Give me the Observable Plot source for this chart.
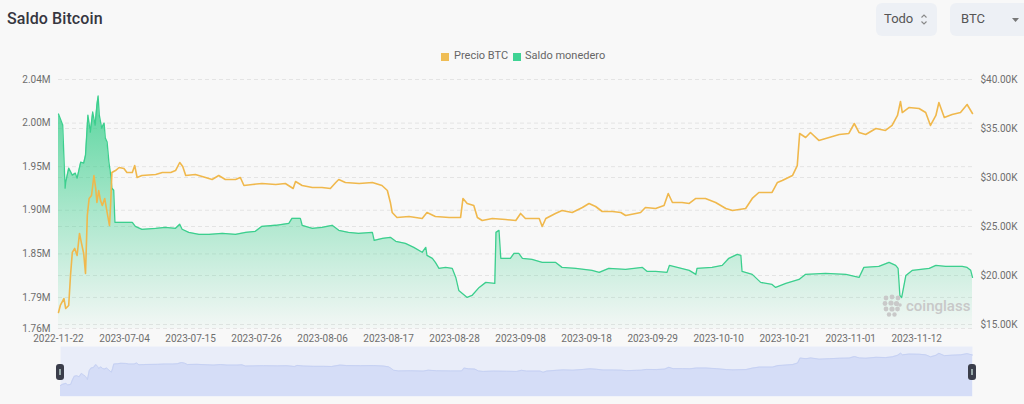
<!DOCTYPE html>
<html>
<head>
<meta charset="utf-8">
<script src="https://cdn.jsdelivr.net/npm/d3@7"></script>
<script src="https://cdn.jsdelivr.net/npm/@observablehq/plot@0.6"></script>
<style>
  html, body { margin: 0; padding: 0; }
  body { width: 1024px; height: 404px; overflow: hidden; position: relative; background: #f8f8f8; font-family: Roboto, "Noto Sans", sans-serif; }
  .abs { position: absolute; }
  #title { left: 7px; top: 9px; font-size: 16px; font-weight: 500; color: #363640; letter-spacing: 0.1px; }
  .ctrl { background: #edf0f5; border-radius: 6px; height: 33px; top: 3px; font-size: 13px; color: #555; box-sizing: border-box; }
  #todo { left: 876px; width: 61px; }
  #btc { left: 950px; width: 90px; }
  .ctrl span { position: absolute; top: 8px; }
  #legend { left: 0; top: 48px; width: 1024px; font-size: 11px; color: #666; }
  .sw { position: absolute; width: 8px; height: 8px; top: 5px; }
  .lt { position: absolute; top: 1px; }
  #chart { left: 0; top: 66px; }
  #slider { left: 0; top: 346px; }
  .handle { position: absolute; top: 364px; width: 8px; height: 16px; background: #3b3e4b; border-radius: 3px; }
  .handle::after { content: ""; position: absolute; left: 3px; top: 5px; width: 2px; height: 6px; border-left: 1px solid #9aa; border-right: 1px solid #9aa; box-sizing: border-box; }
  #wm { left: 882px; top: 294px; color: #c8c8c8; font-size: 15px; font-weight: 500; }
</style>
</head>
<body>
<div id="title" class="abs">Saldo Bitcoin</div>
<div id="todo" class="abs ctrl"><span style="left:8px">Todo</span>
  <svg style="position:absolute;left:44px;top:10px" width="8" height="13" viewBox="0 0 8 13"><path d="M1.5 4.5 L4 2 L6.5 4.5 M1.5 8.5 L4 11 L6.5 8.5" fill="none" stroke="#888" stroke-width="1.1"/></svg>
</div>
<div id="btc" class="abs ctrl"><span style="left:11px">BTC</span>
  <svg style="position:absolute;left:62px;top:15px" width="7" height="4" viewBox="0 0 7 4"><path d="M0 0 L7 0 L3.5 4 Z" fill="#777"/></svg>
</div>
<div id="legend" class="abs">
  <div class="sw" style="left:441px;background:#efbd55"></div><div class="lt" style="left:454px">Precio BTC</div>
  <div class="sw" style="left:513px;background:#3fd394"></div><div class="lt" style="left:525px">Saldo monedero</div>
</div>
<div id="chart" class="abs"></div>
<div id="slider" class="abs"></div>
<div class="handle" style="left:56px"></div>
<div class="handle" style="left:968px"></div>
<div id="wm" class="abs">
  <svg style="position:absolute;left:0;top:0" width="20" height="25" viewBox="0 0 20 25">
    <g fill="#c9c9c9">
      <circle cx="4" cy="4" r="2.4"/><circle cx="10" cy="3" r="2.4"/><circle cx="16" cy="4" r="2.4"/>
      <circle cx="3" cy="9.5" r="2.4"/><circle cx="9" cy="9" r="2.6"/><circle cx="14.5" cy="9.5" r="2.6"/><circle cx="18" cy="11" r="1.8"/>
      <circle cx="4" cy="15" r="2.4"/><circle cx="10" cy="15" r="2.6"/><circle cx="15.5" cy="15" r="2.4"/>
      <circle cx="7" cy="20.5" r="2.2"/><circle cx="12.5" cy="20.5" r="2.2"/>
    </g>
  </svg>
  <span style="position:absolute;left:24px;top:3px;">coinglass</span>
</div>
<script>
// ---- X axis categories (index positions of labelled dates) ----
const xTickIdx = [0, 11, 22, 33, 44, 55, 66, 77, 88, 99, 110, 121, 132, 143];
const xTickLabels = ["2022-11-22","2023-07-04","2023-07-15","2023-07-26","2023-08-06","2023-08-17","2023-08-28","2023-09-08","2023-09-18","2023-09-29","2023-10-10","2023-10-21","2023-11-01","2023-11-12"];

// ---- Left axis (Saldo monedero, BTC) ----
const leftExtent = [1759400, 2045000];
const leftTickValues = [1759400, 1795000, 1845000, 1895000, 1945000, 1995000, 2045000];
const leftTickLabels = ["1.76M","1.79M","1.85M","1.90M","1.95M","2.00M","2.04M"];

// ---- Right axis (Precio BTC, USD) ----
const priceExtent = [14590, 40000];
const priceTickValues = [15000, 20000, 25000, 30000, 35000, 40000];
const priceTickLabels = ["$15.00K","$20.00K","$25.00K","$30.00K","$35.00K","$40.00K"];

// ---- Series: Saldo monedero ----
const saldoIdx = [0,0.7,1.1,1.2,1.7,2.3,2.8,3.1,3.7,4.2,4.5,4.9,5.3,5.7,6.1,6.4,6.6,6.8,7.2,7.6,7.8,8.1,8.4,8.7,8.9,9.2,9.4,9.8,10.6,12.3,12.8,13.9,16.2,17.8,19.5,20.2,20.6,21.7,23.4,25.1,27.3,29.5,31.2,32.8,33.9,36.2,38.4,38.9,40.3,40.6,42.3,43.9,45.6,46.7,48.3,50,52.3,52.6,54,55.3,56.2,57.8,59.2,60.6,61.2,61.4,62.3,62.8,63.4,64.5,65.6,66.2,66.7,67.3,68.1,68.9,70.1,71.2,72.7,72.9,73.4,73.7,75.3,75.9,76.7,77.3,78.9,80.6,82.8,83.9,86.2,88.9,90.1,91.7,94.5,97.3,98.1,99.5,101.4,101.8,105.1,106.2,106.4,108.9,110.6,111.7,113.1,113.7,113.9,115.6,117,118.9,119.5,121.2,123.4,124.5,127.8,131.2,133.4,134.2,136.7,138.4,139.5,139.9,140.2,140.5,141.2,142.3,145.1,146.2,147.8,150.6,151.4,152,152.3];
const saldoVal = [2005400,1992700,1920300,1927200,1943300,1935300,1937600,1931800,1950200,1949100,1958300,2004200,1984700,2007700,1992700,2015700,2026100,2004200,1989300,1995000,1977800,1973200,1950200,1935300,1920300,1918000,1881200,1881200,1881200,1881200,1876600,1873200,1874300,1875500,1874300,1878900,1873200,1869700,1867400,1867400,1868600,1867400,1869700,1870900,1876600,1877800,1880100,1885800,1885800,1877800,1874300,1875500,1877800,1872000,1869700,1868600,1869700,1860500,1862800,1864000,1859400,1857100,1852500,1846800,1852500,1843300,1839900,1835300,1828400,1829500,1828400,1818000,1803100,1799600,1795000,1797300,1806500,1812300,1811100,1869700,1872000,1839900,1839900,1845600,1845600,1839900,1838700,1835300,1835300,1829500,1828400,1826100,1823800,1828400,1827200,1829500,1824900,1824900,1823800,1831800,1826100,1821500,1828400,1829500,1831800,1839900,1844500,1843300,1824900,1821500,1812300,1810000,1806500,1811100,1815700,1821500,1822600,1821500,1818000,1829500,1830700,1835300,1831800,1828400,1797300,1795000,1820300,1826100,1828400,1831800,1830700,1830700,1829500,1826100,1818000];

// ---- Series: Precio BTC ----
const precioIdx = [0,0.3,0.9,1.2,1.7,2.0,2.3,2.7,3.1,3.5,3.8,4.2,4.5,4.8,5.1,5.5,5.9,6.2,6.4,6.7,7.0,7.3,7.7,8.1,8.5,8.7,8.9,9.5,10.1,10.9,11.4,12.3,12.7,13.1,13.9,16.2,17.3,18.7,19.5,20.2,20.7,21.2,22.8,24.5,25.6,26.7,27.8,29.5,30.3,30.9,32.3,33.9,36.2,37.8,39.1,39.5,40.6,42.3,43.9,45.3,46.2,46.7,47.8,50.1,52.3,53.9,54.8,55.3,55.6,56.4,58.4,60.6,61.4,62.8,65.1,67,67.4,68.1,69.2,69.8,70.6,72.3,74.5,76.2,77,77.8,80.1,80.6,81.2,82.8,83.9,85.6,87.3,88.4,89.5,90.6,92.3,93.7,94.5,96.2,97,97.8,99.5,100.9,101.6,102.3,103.9,105.1,106.2,107.8,109.5,111.2,112.3,114.5,115.6,116.7,118.9,119.8,120.6,122.3,123.1,123.5,124.5,125.3,126.7,128.4,130.1,131.7,132.6,133.4,134.5,136.2,137.8,138.9,139.8,140.3,140.6,141.7,143.4,144.5,145.3,146.2,146.7,147.6,148.9,150.3,151.4,152.3];
const precioVal = [16220,16940,17650,16630,16940,20000,22350,22760,22040,24290,23370,22240,20200,26120,27860,28160,30200,28880,27450,28670,27650,27140,27860,26430,25100,27450,30510,30710,31020,30920,30510,30510,31220,30000,30200,30310,30510,30510,30710,31530,31120,30200,30310,30000,29800,30200,29800,29800,30000,29180,29290,29390,29290,29390,28880,29590,29180,28980,28980,28880,29490,29800,29490,29390,29490,29180,28670,27450,26430,25920,26020,25820,26430,26020,25920,25920,27860,27350,27140,25920,25610,25820,25710,25610,26330,25820,25820,25000,25820,26330,26630,26430,26940,27350,27040,26530,26530,26430,26120,26330,26430,26940,26840,27140,28370,27450,27450,27350,27860,27860,27450,26840,26630,26840,27860,28470,28470,29490,29690,30200,31220,34490,34080,34590,33780,34080,34390,34490,35510,34590,34390,35000,34800,35310,36330,37760,36630,37140,37040,36630,35310,36330,37650,36120,36430,36630,37450,36530];

// ---- Slider (dataZoom) vertical extent for price ----
const sliderPriceExtent = [8900, 42200];

// ---- build ----
const toLeft = d3.scaleLinear().domain(priceExtent).range(leftExtent);
const saldo = saldoIdx.map((s, i) => ({s, v: saldoVal[i]}));
const precio = precioIdx.map((s, i) => ({s, p: precioVal[i], v: toLeft(precioVal[i])}));
const xMax = d3.max(saldoIdx);

const leftLabel = new Map(leftTickValues.map((v, i) => [v, leftTickLabels[i]]));
const priceTickPos = priceTickValues.map(toLeft);
const priceLabel = new Map(priceTickPos.map((v, i) => [v, priceTickLabels[i]]));
const xLabel = new Map(xTickIdx.map((v, i) => [v, xTickLabels[i]]));

const gradDefs = () => {
  const ns = "http://www.w3.org/2000/svg";
  const defs = document.createElementNS(ns, "defs");
  defs.innerHTML = `<linearGradient id="gGrad" x1="0" y1="0" x2="0" y2="1">
    <stop offset="0" stop-color="#3dcf8e" stop-opacity="0.85"/>
    <stop offset="0.5" stop-color="#3dcf8e" stop-opacity="0.42"/>
    <stop offset="1" stop-color="#3dcf8e" stop-opacity="0.03"/>
  </linearGradient>`;
  return defs;
};

const gridStyle = {stroke: "#e4e4e4", strokeOpacity: 1, strokeDasharray: "4,3", strokeWidth: 1};

const chart = Plot.plot({
  width: 1024,
  height: 280,
  marginTop: 13,
  marginBottom: 18,
  marginLeft: 58,
  marginRight: 52,
  style: {background: "transparent", fontFamily: "Roboto, sans-serif", fontSize: "10px", color: "#6e6e6e", overflow: "visible", maxWidth: "none"},
  x: {type: "linear", domain: [0, xMax], axis: null},
  y: {type: "linear", domain: leftExtent, axis: null},
  marks: [
    gradDefs,
    Plot.gridY(leftTickValues, gridStyle),
    Plot.gridY(priceTickPos, gridStyle),
    Plot.areaY(saldo, {x: "s", y1: () => leftExtent[0], y2: "v", fill: "url(#gGrad)"}),
    Plot.lineY(saldo, {x: "s", y: "v", stroke: "#3ccf8e", strokeWidth: 1.3}),
    Plot.lineY(precio, {x: "s", y: "v", stroke: "#f0b84c", strokeWidth: 1.6}),
    Plot.axisY(leftTickValues, {anchor: "left", label: null, tickSize: 0, tickPadding: 8, tickFormat: d => leftLabel.get(d)}),
    Plot.axisY(priceTickPos, {anchor: "right", label: null, tickSize: 0, tickPadding: 8, tickFormat: d => priceLabel.get(d)}),
    Plot.axisX(xTickIdx, {anchor: "bottom", label: null, tickSize: 0, tickPadding: 6, tickFormat: d => xLabel.get(d)})
  ]
});
document.getElementById("chart").appendChild(chart);

const slider = Plot.plot({
  width: 1024,
  height: 52,
  marginTop: 0,
  marginBottom: 2,
  marginLeft: 60,
  marginRight: 52,
  style: {background: "transparent", overflow: "visible", maxWidth: "none"},
  x: {type: "linear", domain: [0, xMax], axis: null},
  y: {type: "linear", domain: sliderPriceExtent, axis: null},
  marks: [
    Plot.frame({fill: "#e9edf9", stroke: null}),
    Plot.areaY(precio, {x: "s", y1: () => sliderPriceExtent[0], y2: "p", fill: "#d5ddf7"}),
    Plot.lineY(precio, {x: "s", y: "p", stroke: "#c6d1f3", strokeWidth: 1})
  ]
});
document.getElementById("slider").appendChild(slider);
</script>
</body>
</html>
